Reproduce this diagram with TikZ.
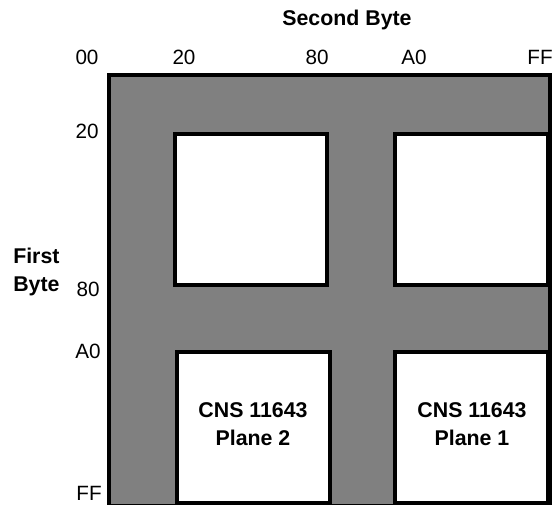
\documentclass[tikz,border=0pt]{standalone}
\usepackage{fontspec}
\setmainfont{Liberation Sans}
\begin{document}
\begin{tikzpicture}[x=0.75pt,y=-0.75pt,
  region/.style={fill=black!50!white, draw=black, line width=3pt, line join=miter},
  plane/.style={fill=white, draw=black, line width=3pt, line join=miter},
  hex/.style={font=\fontsize{15.5}{18}\selectfont, inner sep=0pt},
  title/.style={font=\fontsize{16}{19}\selectfont\bfseries, inner sep=0pt},
  planetext/.style={font=\fontsize{16}{19}\selectfont\bfseries, align=center, inner sep=0pt}]
\useasboundingbox (0,0) rectangle (557,505);
% shaded code space
\draw[region] (109,74.7) rectangle (549.7,506);
% white planes
\draw[plane] (174.7,133.7) rectangle (327,284.7);
\draw[plane] (395.3,134) rectangle (547.7,285);
\draw[plane] (177,352) rectangle (329.5,503.5);
\draw[plane] (395.3,352) rectangle (548,503.5);
% plane labels
\node[planetext] (p2) at (253,424) {CNS 11643\\[2pt]Plane 2};
\node[planetext] (p1) at (472,424) {CNS 11643\\[2pt]Plane 1};
% axis titles
\node[title] (sb) at (347,20) {Second Byte};
\node[title, align=left, anchor=west] (fb) at (13,272) {First\\[2pt]Byte};
% second byte values
\node[hex] (c00) at (87,57) {00};
\node[hex] (c20) at (184,57) {20};
\node[hex] (c80) at (317,57) {80};
\node[hex] (cA0) at (414,57) {A0};
\node[hex] (cFF) at (540,57) {FF};
% first byte values
\node[hex, anchor=east] (r20) at (99,131) {20};
\node[hex, anchor=east] (r80) at (100,289) {80};
\node[hex, anchor=east] (rA0) at (101,351) {A0};
\node[hex, anchor=east] (rFF) at (102,493) {FF};
\end{tikzpicture}
\end{document}
